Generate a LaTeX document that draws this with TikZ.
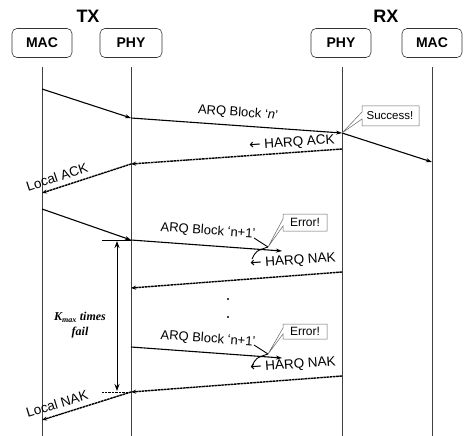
\documentclass[tikz,border=0pt]{standalone}
\usepackage{fontspec}
\setmainfont{Liberation Sans}
\newfontfamily\serifbi{Liberation Serif}
\newfontfamily\dejavu{DejaVu Sans}
\usetikzlibrary{arrows.meta}
\newcommand{\larr}{{\dejavu ←}}
\begin{document}
\begin{tikzpicture}[x=1pt,y=-1pt,
  ent/.style={draw=black!80, line width=0.6pt, rounded corners=5pt, minimum width=60pt, minimum height=29pt, inner sep=0pt, font=\bfseries\fontsize{14}{16}\selectfont},
  head/.style={inner sep=0pt, font=\bfseries\fontsize{18}{20}\selectfont},
  life/.style={draw=black!75, line width=0.9pt},
  msg/.style={line width=1.1pt, -{Stealth[length=6pt,width=4pt]}},
  ret/.style={line width=1.4pt, dash pattern=on 2.6pt off 0.6pt, -{Stealth[length=5pt,width=4pt]}},
  lbl/.style={inner sep=0pt, font=\fontsize{13}{15}\selectfont},
  hlbl/.style={inner sep=0pt, font=\fontsize{13.5}{15}\selectfont},
  call/.style={draw=black!60, line width=0.5pt, fill=white},
  calltxt/.style={inner sep=0pt, font=\fontsize{11.5}{13}\selectfont},
  cross/.style={line width=0.9pt},
]
\useasboundingbox (0,0) rectangle (464,436);

% headers and entities
\node[head] (tx) at (88,16) {TX};
\node[head] (rx) at (386,16) {RX};
\node[ent] (mt) at (42,43) {MAC};
\node[ent, minimum width=62pt] (pt) at (131,43) {PHY};
\node[ent] (pr) at (341,43) {PHY};
\node[ent] (mr) at (432,43) {MAC};

% lifelines
\coordinate (mt0) at (42,67);  \coordinate (mt1) at (42,436);
\coordinate (pt0) at (131,67); \coordinate (pt1) at (131,436);
\coordinate (pr0) at (342,67); \coordinate (pr1) at (342,436);
\coordinate (mr0) at (432,67); \coordinate (mr1) at (432,436);
\draw[life] (mt0) -- (mt1);
\draw[life] (pt0) -- (pt1);
\draw[life] (pr0) -- (pr1);
\draw[life] (mr0) -- (mr1);

% message points
\coordinate (m1) at (42,89);   \coordinate (p1) at (131,118);
\coordinate (r1) at (342,133); \coordinate (q1) at (432,162);
\coordinate (r2) at (342,149); \coordinate (p2) at (131,164);
\coordinate (m2) at (42,193);
\coordinate (m3) at (42,209);  \coordinate (p3) at (131,240);
\coordinate (e1) at (282,251);
\coordinate (r4) at (342,272); \coordinate (p4) at (131,288);
\coordinate (p5) at (131,347); \coordinate (e2) at (282,358);
\coordinate (r6) at (342,376); \coordinate (p6) at (131,392);
\coordinate (m6) at (42,420);

% first exchange
\draw[msg] (m1) -- (p1);
\draw[msg] (p1) -- (r1);
\draw[msg] (r1) -- (q1);
\draw[ret] (r2) -- (p2);
\draw[ret] (p2) -- (m2);
\node[lbl, rotate=-4] (l1) at (238,113) {ARQ Block ‘\textit{n}’};
\node[hlbl, rotate=4] (l2) at (292,143) {\larr{} HARQ ACK};
\node[hlbl, rotate=18] (l3) at (57,177) {Local ACK};

% success callout
\draw[call] (419,106) -- (419,126) -- (362,126) -- (362,119) -- (r1) -- (362,112) -- (362,106) -- cycle;
\node[calltxt] (s1) at (390,116) {Success!};

% second exchange (error)
\draw[msg] (m3) -- (p3);
\draw[msg] (p3) -- (e1);
\node[lbl, rotate=-4] (l4) at (208,231) {ARQ Block ‘n+1’};
\coordinate (x1) at (268,247);
\draw[cross] (254,238) -- (x1);
\draw[cross] (252,259) .. controls (256,251) .. (x1);
\draw[call] (327,214) -- (327,231) -- (283,231) -- (283,226) -- (x1) -- (283,219) -- (283,214) -- cycle;
\node[calltxt, font=\fontsize{12}{14}\selectfont] (er1) at (305,222.5) {Error!};
\draw[ret] (r4) -- (p4);
\node[hlbl, rotate=4] (l5) at (293,261) {\larr{} HARQ NAK};

% dots
\fill (228,299) circle (1.1pt);
\fill (228,317) circle (1.1pt);

% third exchange (error)
\draw[msg] (p5) -- (e2);
\node[lbl, rotate=-4] (l6) at (208,339) {ARQ Block ‘n+1’};
\coordinate (x2) at (268,354);
\draw[cross] (254,345) -- (x2);
\draw[cross] (252,366) .. controls (256,358) .. (x2);
\draw[call] (327,324) -- (327,339) -- (283,339) -- (283,334) -- (x2) -- (283,328) -- (283,324) -- cycle;
\node[calltxt, font=\fontsize{12}{14}\selectfont] (er2) at (305,331.5) {Error!};
\draw[ret] (r6) -- (p6);
\node[hlbl, rotate=4] (l7) at (293,365) {\larr{} HARQ NAK};
\draw[ret] (p6) -- (m6);
\node[hlbl, rotate=17] (l8) at (57,404) {Local NAK};

% Kmax span
\coordinate (k0) at (102,240); \coordinate (k3) at (102,392);
\coordinate (k1) at (117,241); \coordinate (k2) at (117,391);
\draw[line width=0.4pt] (k0) -- (p3);
\draw[line width=0.4pt, densely dotted] (k3) -- (p6);
\draw[line width=1pt, {Stealth[length=7pt,width=5pt]}-{Stealth[length=7pt,width=5pt]}] (k1) -- (k2);
\node[align=center, inner sep=0pt, font=\serifbi\bfseries\itshape\fontsize{12}{15}\selectfont] (kl) at (80,325) {K\textsubscript{max} times\\fail};
\end{tikzpicture}
\end{document}
